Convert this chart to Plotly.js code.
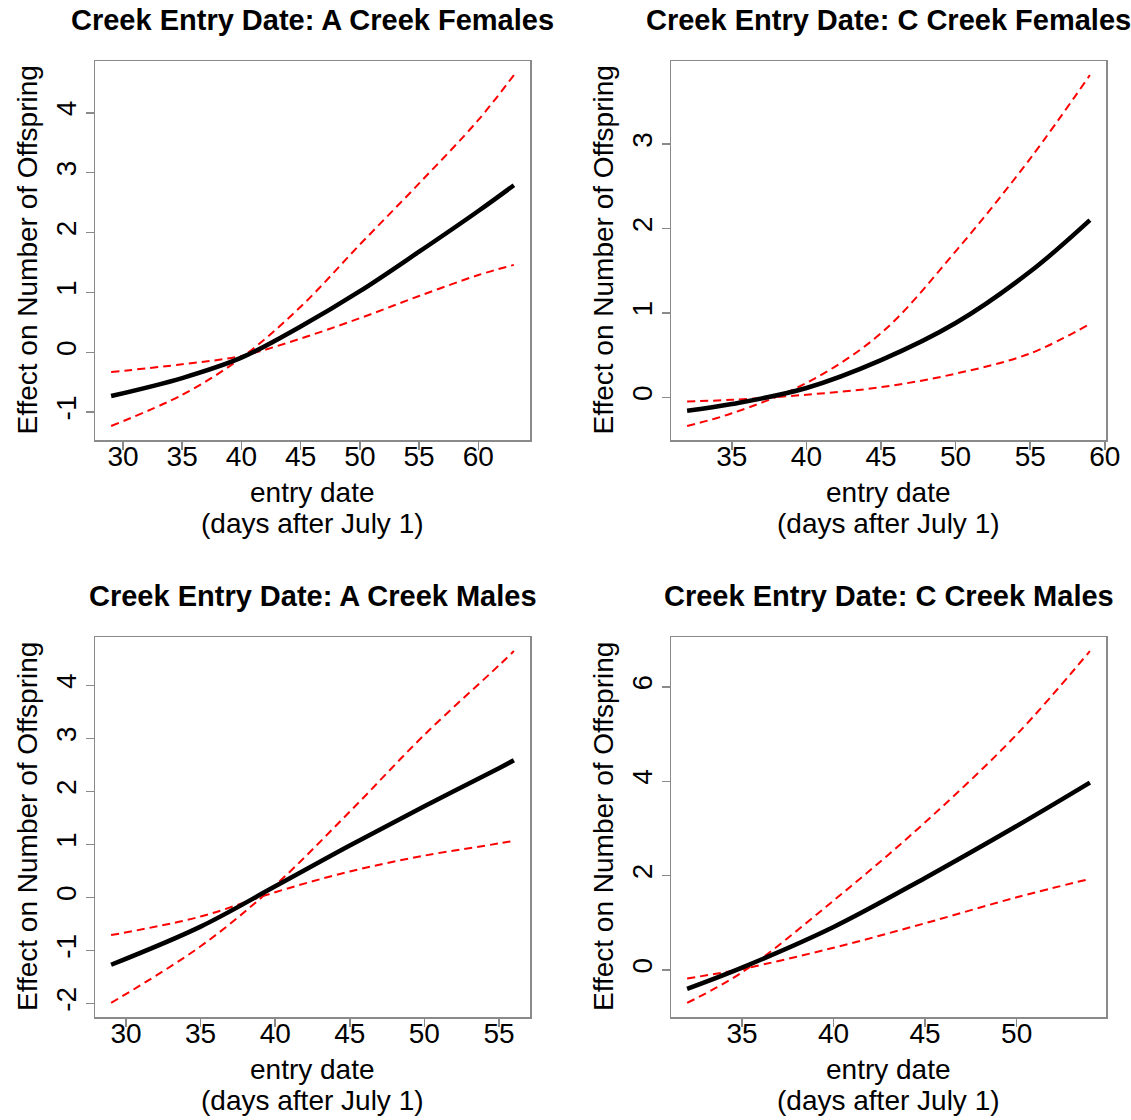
<!DOCTYPE html>
<html>
<head>
<meta charset="utf-8">
<script src="https://cdn.plot.ly/plotly-3.0.1.min.js"></script>
<style>
  html, body { margin: 0; padding: 0; background: #ffffff; }
  #chart { width: 1131px; height: 1120px; }
</style>
</head>
<body>
<div id="chart"></div>
<script>
// ---- Data ----
// Panel 1: A Creek Females
const afX     = [29, 35, 40, 45, 50, 55, 60, 63];
const afFit   = [-0.73, -0.43, -0.09, 0.43, 1.02, 1.68, 2.36, 2.79];
const afUpper = [-1.23, -0.71, -0.09, 0.76, 1.80, 2.82, 3.88, 4.63];
const afLower = [-0.33, -0.20, -0.06, 0.23, 0.57, 0.94, 1.29, 1.46];

// Panel 2: C Creek Females
const cfX     = [32, 35, 40, 45, 50, 55, 59];
const cfFit   = [-0.16, -0.08, 0.11, 0.44, 0.88, 1.49, 2.10];
const cfUpper = [-0.34, -0.19, 0.17, 0.76, 1.73, 2.83, 3.82];
const cfLower = [-0.05, -0.03, 0.03, 0.12, 0.28, 0.52, 0.87];

// Panel 3: A Creek Males
const amX     = [29, 35, 40, 45, 50, 55, 56];
const amFit   = [-1.27, -0.55, 0.21, 0.98, 1.72, 2.44, 2.59];
const amUpper = [-1.99, -0.92, 0.23, 1.62, 3.07, 4.38, 4.65];
const amLower = [-0.71, -0.36, 0.10, 0.49, 0.79, 1.02, 1.07];

// Panel 4: C Creek Males
const cmX     = [32, 35, 40, 45, 50, 54];
const cmFit   = [-0.40, 0.05, 0.91, 1.95, 3.05, 3.97];
const cmUpper = [-0.70, -0.05, 1.47, 3.13, 4.99, 6.76];
const cmLower = [-0.18, 0.02, 0.47, 0.99, 1.54, 1.93];

// Tick values
const afYTicks = [-1, 0, 1, 2, 3, 4];
const cfYTicks = [0, 1, 2, 3];
const amYTicks = [-2, -1, 0, 1, 2, 3, 4];
const cmYTicks = [0, 2, 4, 6];
const afXTicks = [30, 35, 40, 45, 50, 55, 60];
const cfXTicks = [35, 40, 45, 50, 55, 60];
const amXTicks = [30, 35, 40, 45, 50, 55];
const cmXTicks = [35, 40, 45, 50];

// Titles
const panelTitles = [
  "Creek Entry Date: A Creek Females",
  "Creek Entry Date: C Creek Females",
  "Creek Entry Date: A Creek Males",
  "Creek Entry Date: C Creek Males"
];
const xTitleLine1 = "entry date";
const xTitleLine2 = "(days after July 1)";
const yTitleText = "Effect on Number of Offspring";

// ---- Build ----
const W = 1131, H = 1120;
const FONT = "Liberation Sans, Arial, Helvetica, sans-serif";
const FS = 28;

const panels = [
  {x: afX, fit: afFit, up: afUpper, lo: afLower, xt: afXTicks, yt: afYTicks, left: 95, right: 530, top: 61, bottom: 440},
  {x: cfX, fit: cfFit, up: cfUpper, lo: cfLower, xt: cfXTicks, yt: cfYTicks, left: 671, right: 1106, top: 61, bottom: 440},
  {x: amX, fit: amFit, up: amUpper, lo: amLower, xt: amXTicks, yt: amYTicks, left: 95, right: 530, top: 637, bottom: 1017},
  {x: cmX, fit: cmFit, up: cmUpper, lo: cmLower, xt: cmXTicks, yt: cmYTicks, left: 671, right: 1106, top: 637, bottom: 1017}
];

function rRange(vals) {
  const mn = Math.min(...vals), mx = Math.max(...vals);
  const ext = (mx - mn) * 0.04;
  return [mn - ext, mx + ext];
}

const traces = [];
const layout = {
  width: W, height: H,
  margin: {l: 0, r: 0, t: 0, b: 0},
  paper_bgcolor: "#ffffff",
  plot_bgcolor: "#ffffff",
  showlegend: false,
  font: {family: FONT, size: FS, color: "#000000"},
  annotations: []
};

panels.forEach((p, i) => {
  const n = i + 1;
  const xa = n === 1 ? "x" : "x" + n;
  const ya = n === 1 ? "y" : "y" + n;
  const xKey = n === 1 ? "xaxis" : "xaxis" + n;
  const yKey = n === 1 ? "yaxis" : "yaxis" + n;

  traces.push({x: p.x, y: p.up, xaxis: xa, yaxis: ya, type: "scatter", mode: "lines",
    line: {color: "#ff0000", width: 2, dash: "8px,5px", shape: "spline", smoothing: 1}, hoverinfo: "skip"});
  traces.push({x: p.x, y: p.lo, xaxis: xa, yaxis: ya, type: "scatter", mode: "lines",
    line: {color: "#ff0000", width: 2, dash: "8px,5px", shape: "spline", smoothing: 1}, hoverinfo: "skip"});
  traces.push({x: p.x, y: p.fit, xaxis: xa, yaxis: ya, type: "scatter", mode: "lines",
    line: {color: "#000000", width: 4.5, shape: "spline", smoothing: 1}, hoverinfo: "skip"});

  const axCommon = {
    showgrid: false, zeroline: false, showline: true, mirror: true,
    linecolor: "#8a8a8a", linewidth: 1.5,
    ticks: "outside", ticklen: 8, tickwidth: 1.5, tickcolor: "#8a8a8a",
    tickfont: {family: FONT, size: FS, color: "#000000"},
    fixedrange: true, automargin: false
  };

  layout[xKey] = Object.assign({}, axCommon, {
    domain: [p.left / W, p.right / W],
    anchor: ya,
    range: rRange(p.x),
    tickmode: "array", tickvals: p.xt, ticktext: p.xt.map(String),
    ticklabelstandoff: -17
  });
  layout[yKey] = Object.assign({}, axCommon, {
    domain: [1 - p.bottom / H, 1 - p.top / H],
    anchor: xa,
    range: rRange(p.fit.concat(p.up, p.lo)),
    tickmode: "array", tickvals: p.yt, ticktext: p.yt.map(String),
    tickangle: -90,
    ticklabelstandoff: -2
  });

  const cx = (p.left + p.right) / 2;
  const cy = (p.top + p.bottom) / 2;
  // panel title
  layout.annotations.push({text: "<b>" + panelTitles[i] + "</b>", xref: "paper", yref: "paper",
    x: cx / W, y: 1 - (p.top - 41) / H, xanchor: "center", yanchor: "middle", showarrow: false,
    font: {family: FONT, size: 29, color: "#000000"}});
  // x title (two lines)
  layout.annotations.push({text: xTitleLine1, xref: "paper", yref: "paper",
    x: cx / W, y: 1 - (p.bottom + 52) / H, xanchor: "center", yanchor: "middle", showarrow: false,
    font: {family: FONT, size: FS, color: "#000000"}});
  layout.annotations.push({text: xTitleLine2, xref: "paper", yref: "paper",
    x: cx / W, y: 1 - (p.bottom + 83) / H, xanchor: "center", yanchor: "middle", showarrow: false,
    font: {family: FONT, size: FS, color: "#000000"}});
  // y title
  layout.annotations.push({text: yTitleText, xref: "paper", yref: "paper",
    x: (p.left - 68) / W, y: 1 - cy / H, xanchor: "center", yanchor: "middle", showarrow: false,
    textangle: -90, font: {family: FONT, size: FS, color: "#000000"}});
});

Plotly.newPlot("chart", traces, layout, {staticPlot: true, displayModeBar: false});
</script>
</body>
</html>
